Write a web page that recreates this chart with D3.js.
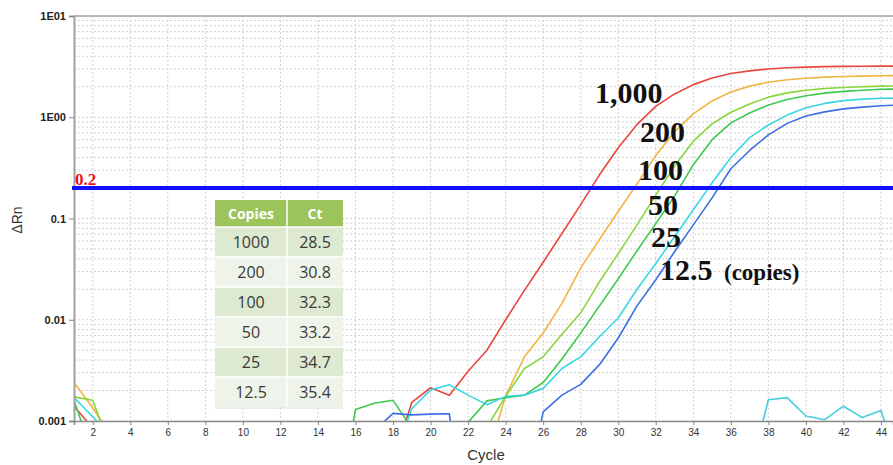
<!DOCTYPE html>
<html>
<head>
<meta charset="utf-8">
<script src="https://cdn.jsdelivr.net/npm/d3@7"></script>
<style>
body { margin: 0; background: #fff; }
svg { display: block; font-family: "Liberation Sans", Arial, sans-serif; }
</style>
</head>
<body>
<div id="container"></div>
<script>
// amplification data, one value per cycle (1..45), null = not shown
var cycles = d3.range(1, 46);
var copies = ['1000', '200', '100', '50', '25', '12.5'];
var ctValues = ['28.5', '30.8', '32.3', '33.2', '34.7', '35.4'];
var curveLabels = ['1,000', '200', '100', '50', '25', '12.5'];
var yTicks = [10, 1, 0.1, 0.01, 0.001];
var yTickLabels = ['1E01', '1E00', '0.1', '0.01', '0.001'];
var xTicks = d3.range(2, 45, 2);
var threshold = 0.2;

var red1000 = [0.0014, 0.00085, null, null, null, null, null, null, null, null, null, null, null, null, null, null, null,
  0.0004, 0.00153, 0.00213, 0.0018, 0.0031, 0.005, 0.0100, 0.0195, 0.037, 0.071, 0.137, 0.27, 0.50, 0.85, 1.28,
  1.70, 2.10, 2.44, 2.70, 2.87, 3.00, 3.08, 3.13, 3.16, 3.18, 3.19, 3.20, 3.20];
var orange200 = [0.0024, 0.00135, 0.0007, null, null, null, null, null, null, null, null, null, null, null, null, null,
  null, null, null, null, null, null, 0.00043, 0.00177, 0.0043, 0.0074, 0.0145, 0.0325, 0.062, 0.118, 0.22, 0.42,
  0.72, 1.08, 1.45, 1.78, 2.03, 2.22, 2.35, 2.43, 2.49, 2.53, 2.55, 2.57, 2.58];
var lime100 = [0.00173, 0.0016, 0.0005, null, null, null, null, null, null, null, null, null, null, null, null, null,
  null, null, null, null, null, null, 0.00087, 0.00175, 0.0033, 0.0043, 0.0072, 0.0117, 0.0238, 0.045, 0.0865, 0.17,
  0.33, 0.58, 0.86, 1.12, 1.35, 1.58, 1.74, 1.85, 1.92, 1.97, 2.00, 2.03, 2.04];
var green50 = [0.0016, 0.00046, null, null, null, null, null, null, null, null, null, null, null, null,
  0.00012, 0.0013, 0.0015, 0.0016, 0.00085, null, null, 0.00097, 0.00158, 0.0017, 0.0018, 0.0024, 0.0041, 0.0074,
  0.0137, 0.0254, 0.048, 0.089, 0.166, 0.34, 0.60, 0.88, 1.10, 1.32, 1.50, 1.63, 1.73, 1.80, 1.85, 1.89, 1.90];
var cyan25 = [0.0017, 0.0011, 0.0007, null, null, null, null, null, null, null, null, null, null, null, null, null, null,
  0.0004, 0.00132, 0.00203, 0.00228, 0.0018, 0.00145, 0.00175, 0.0018, 0.0021, 0.0033, 0.0043, 0.0068, 0.0104,
  0.020, 0.036, 0.066, 0.122, 0.225, 0.40, 0.63, 0.84, 1.05, 1.24, 1.37, 1.46, 1.51, 1.54, 1.55];
var blue12 = [null, null, null, null, null, null, null, null, null, null, null, null, null, null, null, null,
  0.0008, 0.00119, 0.00115, 0.00117, 0.00118, 0.00005, null, null, 0.00016, 0.00123, 0.0018, 0.0023, 0.0036,
  0.0066, 0.0137, 0.0248, 0.047, 0.0865, 0.16, 0.31, 0.47, 0.67, 0.87, 1.03, 1.13, 1.21, 1.26, 1.30, 1.32];
var ntcCyan = [null, null, null, null, null, null, null, null, null, null, null, null, null, null, null, null, null, null,
  null, null, null, null, null, null, null, null, null, null, null, null, null, null, null, null, null, null,
  0.0003, 0.00162, 0.0017, 0.00112, 0.00103, 0.0014, 0.00108, 0.00127, 0.00035];

var series = [
  {name: '1000', values: red1000, color: '#e8463e'},
  {name: '200', values: orange200, color: '#efb63f'},
  {name: '100', values: lime100, color: '#86d63a'},
  {name: '50', values: green50, color: '#3fc94e'},
  {name: '25', values: cyan25, color: '#3ad6e2'},
  {name: '12.5', values: blue12, color: '#3d6fe2'},
  {name: 'ntc', values: ntcCyan, color: '#45cde0'}
];

var W = 893, H = 465;
var plot = {left: 74, right: 893, top: 16, bottom: 421};

var svg = d3.select('#container').append('svg')
  .attr('width', W).attr('height', H);

var x = d3.scaleLinear().domain([1, 44.64]).range([plot.left, plot.right]);
var y = d3.scaleLog().domain([0.001, 10]).range([plot.bottom, plot.top]);

// grid
var minorVals = [];
[0.001, 0.01, 0.1, 1].forEach(function (d) {
  for (var k = 1; k <= 9; k++) minorVals.push(d * k);
});
minorVals.push(10);

var grid = svg.append('g').attr('stroke', '#d2d2d2').attr('stroke-dasharray', '2,2');
grid.selectAll('.hg').data(minorVals).enter().append('line')
  .attr('x1', plot.left).attr('x2', plot.right)
  .attr('y1', d => y(d)).attr('y2', d => y(d));
grid.selectAll('.vg').data(xTicks).enter().append('line')
  .attr('x1', d => x(d)).attr('x2', d => x(d))
  .attr('y1', plot.top).attr('y2', plot.bottom);

// top border
svg.append('line').attr('x1', plot.left).attr('x2', plot.right)
  .attr('y1', plot.top).attr('y2', plot.top)
  .attr('stroke', '#b8b8b8').attr('stroke-width', 2);

// curves
svg.append('clipPath').attr('id', 'clip').append('rect')
  .attr('x', plot.left).attr('y', plot.top)
  .attr('width', plot.right - plot.left).attr('height', plot.bottom - plot.top);

var line = d3.line()
  .defined(d => d.v != null)
  .x(d => x(d.c))
  .y(d => y(d.v));

svg.append('g').attr('clip-path', 'url(#clip)')
  .selectAll('path').data(series).enter().append('path')
  .attr('d', s => line(cycles.map((c, i) => ({c: c, v: s.values[i]}))))
  .attr('fill', 'none')
  .attr('stroke', s => s.color)
  .attr('stroke-width', 1.6)
  .attr('stroke-linejoin', 'round');

// axes
var yAxis = d3.axisLeft(y).tickValues(yTicks)
  .tickFormat((d, i) => yTickLabels[i]).tickSize(5).tickPadding(3);
var gy = svg.append('g').attr('transform', `translate(${plot.left},0)`).call(yAxis);
gy.select('.domain').attr('stroke', '#a0a0a0').attr('stroke-width', 2);
gy.selectAll('.tick line').attr('stroke', '#888');
gy.selectAll('text').attr('font-size', 11).attr('fill', '#222').attr('font-weight', 'bold')
  .attr('font-family', '"Liberation Sans", Arial, sans-serif');

var xAxis = d3.axisBottom(x).tickValues(xTicks).tickSize(4).tickPadding(4);
var gx = svg.append('g').attr('transform', `translate(0,${plot.bottom})`).call(xAxis);
gx.select('.domain').attr('stroke', '#8a8a8a').attr('stroke-width', 1.5);
gx.selectAll('.tick line').attr('stroke', '#888');
gx.selectAll('text').attr('font-size', 10).attr('fill', '#333')
  .attr('font-family', '"Liberation Sans", Arial, sans-serif');

svg.append('text').attr('x', 486).attr('y', 460).attr('text-anchor', 'middle')
  .attr('font-size', 15).attr('fill', '#333').text('Cycle');
svg.append('text').attr('transform', 'translate(22,220) rotate(-90)')
  .attr('text-anchor', 'middle').attr('font-size', 14).attr('fill', '#333').text('ΔRn');

// threshold
svg.append('line').attr('x1', plot.left - 2).attr('x2', plot.right)
  .attr('y1', y(threshold)).attr('y2', y(threshold))
  .attr('stroke', '#1010ff').attr('stroke-width', 4);
svg.append('text').attr('x', plot.left + 1).attr('y', y(threshold) - 3)
  .attr('font-family', '"Liberation Serif", "Times New Roman", serif')
  .attr('font-weight', 'bold').attr('font-size', 17).attr('fill', '#ee1111')
  .text(threshold);

// table
var tbl = {left: 215, top: 200, headH: 27, rowH: 30, col1: 72, col2: 56};
var tg = svg.append('g');
tg.append('rect').attr('x', tbl.left).attr('y', tbl.top)
  .attr('width', tbl.col1 + tbl.col2).attr('height', tbl.headH).attr('fill', '#9bc45b');
copies.forEach(function (c, i) {
  tg.append('rect').attr('x', tbl.left).attr('y', tbl.top + tbl.headH + i * tbl.rowH)
    .attr('width', tbl.col1 + tbl.col2).attr('height', tbl.rowH)
    .attr('fill', i % 2 === 0 ? '#dde9d0' : '#eef4e9');
});
tg.append('line').attr('x1', tbl.left + tbl.col1).attr('x2', tbl.left + tbl.col1)
  .attr('y1', tbl.top).attr('y2', tbl.top + tbl.headH + copies.length * tbl.rowH)
  .attr('stroke', '#fff').attr('stroke-width', 1.5);
d3.range(1, copies.length + 1).forEach(function (i) {
  tg.append('line').attr('x1', tbl.left).attr('x2', tbl.left + tbl.col1 + tbl.col2)
    .attr('y1', tbl.top + tbl.headH + (i - 1) * tbl.rowH).attr('y2', tbl.top + tbl.headH + (i - 1) * tbl.rowH)
    .attr('stroke', '#fff').attr('stroke-width', 1.5);
});
tg.append('line').attr('x1', tbl.left).attr('x2', tbl.left + tbl.col1 + tbl.col2)
  .attr('y1', tbl.top + tbl.headH + copies.length * tbl.rowH + 1)
  .attr('y2', tbl.top + tbl.headH + copies.length * tbl.rowH + 1)
  .attr('stroke', '#d8d8d8').attr('stroke-width', 1);

var c1x = tbl.left + tbl.col1 / 2, c2x = tbl.left + tbl.col1 + tbl.col2 / 2;
var tfont = '"Open Sans", "Noto Sans", sans-serif';
tg.append('text').attr('x', c1x).attr('y', tbl.top + 19).attr('text-anchor', 'middle')
  .attr('font-family', tfont).attr('font-size', 14).attr('font-weight', 'bold').attr('fill', '#fff').text('Copies');
tg.append('text').attr('x', c2x).attr('y', tbl.top + 19).attr('text-anchor', 'middle')
  .attr('font-family', tfont).attr('font-size', 14).attr('font-weight', 'bold').attr('fill', '#fff').text('Ct');
copies.forEach(function (c, i) {
  var ty = tbl.top + tbl.headH + i * tbl.rowH + 21;
  tg.append('text').attr('x', c1x).attr('y', ty).attr('text-anchor', 'middle')
    .attr('font-family', tfont).attr('font-size', 16).attr('fill', '#3a3a3a').text(c);
  tg.append('text').attr('x', c2x).attr('y', ty).attr('text-anchor', 'middle')
    .attr('font-family', tfont).attr('font-size', 16).attr('fill', '#3a3a3a').text(ctValues[i]);
});

// curve labels
var labelPos = [[595, 103], [640, 142], [638, 180], [648, 215], [651, 247], [660, 280]];
var sfont = '"Liberation Serif", "Times New Roman", serif';
svg.append('g').selectAll('text').data(curveLabels).enter().append('text')
  .attr('x', (d, i) => labelPos[i][0]).attr('y', (d, i) => labelPos[i][1])
  .attr('font-family', sfont).attr('font-weight', 'bold').attr('font-size', 30)
  .attr('fill', '#111').text(d => d);
svg.append('text').attr('x', 724).attr('y', 280)
  .attr('font-family', sfont).attr('font-weight', 'bold').attr('font-size', 23)
  .attr('fill', '#111').text('(copies)');
</script>
</body>
</html>
